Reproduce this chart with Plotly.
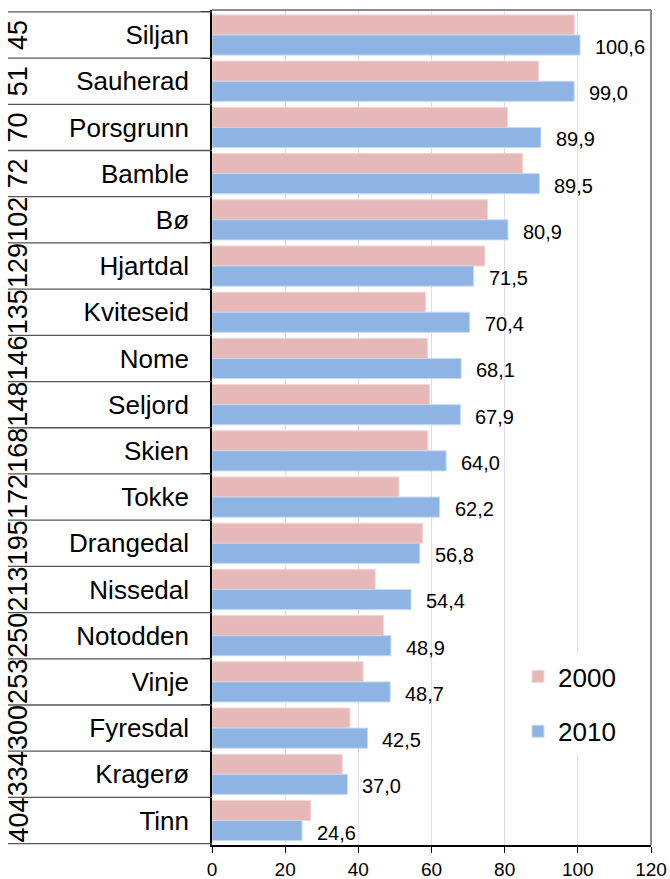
import plotly.graph_objects as go

names = ["Siljan", "Sauherad", "Porsgrunn", "Bamble", "Bø", "Hjartdal", "Kviteseid",
         "Nome", "Seljord", "Skien", "Tokke", "Drangedal", "Nissedal", "Notodden",
         "Vinje", "Fyresdal", "Kragerø", "Tinn"]
ranks = ["45", "51", "70", "72", "102", "129", "135", "146", "148", "168", "172",
         "195", "213", "250", "253", "300", "334", "404"]
v2000 = [99.0, 89.3, 80.8, 84.9, 75.3, 74.6, 58.4, 58.9, 59.5, 59.0, 51.1, 57.6,
         44.6, 46.9, 41.3, 37.7, 35.6, 27.0]
v2010 = [100.6, 99.0, 89.9, 89.5, 80.9, 71.5, 70.4, 68.1, 67.9, 64.0, 62.2, 56.8,
         54.4, 48.9, 48.7, 42.5, 37.0, 24.6]
x_ticks = [0, 20, 40, 60, 80, 100, 120]

FONT = "Liberation Sans, Arial, sans-serif"
W, H = 670, 879
ML, MR, MT, MB = 212, 19, 10, 34
PW = W - ML - MR
PH = H - MT - MB

fig = go.Figure()
fig.add_trace(go.Bar(y=names, x=v2000, orientation="h", name="2000",
                     legendgroup="a",
                     marker=dict(color="#e6b8b7", line=dict(color="#f2d6d5", width=1))))
fig.add_trace(go.Bar(y=names, x=v2010, orientation="h", name="2010",
                     legendgroup="b",
                     marker=dict(color="#8eb4e3", line=dict(color="#c6d9f1", width=1))))

annotations = []
for n, v in zip(names, v2010):
    annotations.append(dict(x=v, y=n, xref="x", yref="y", text=f"{v:.1f}".replace(".", ","),
                            showarrow=False, xanchor="left", yanchor="middle",
                            xshift=13, yshift=-12, font=dict(size=20, color="black", family=FONT)))
for n, r in zip(names, ranks):
    annotations.append(dict(x=(18 - ML) / PW, y=n, xref="paper", yref="y", text=r,
                            showarrow=False, textangle=-90, xanchor="center", yanchor="middle",
                            font=dict(size=27, color="black", family=FONT)))

shapes = []
xl = (8 - ML) / PW
for i in range(len(names) + 1):
    shapes.append(dict(type="line", xref="paper", yref="y", x0=xl, x1=0,
                       y0=i - 0.5, y1=i - 0.5, line=dict(color="#555555", width=1.3)))
# top and right frame
shapes.append(dict(type="line", xref="paper", yref="paper", x0=0, x1=1, y0=1, y1=1,
                   line=dict(color="#8c8c8c", width=2)))
shapes.append(dict(type="line", xref="paper", yref="paper", x0=1, x1=1, y0=0, y1=1,
                   line=dict(color="#8c8c8c", width=2)))

fig.update_layout(
    width=W, height=H,
    margin=dict(l=ML, r=MR, t=MT, b=MB, pad=0, autoexpand=False),
    paper_bgcolor="white", plot_bgcolor="white",
    barmode="group", bargap=0.13, bargroupgap=0,
    font=dict(family=FONT, color="black"),
    showlegend=True,
    legend=dict(x=(518 - ML) / PW, y=(H - MB - 653) / PH, xanchor="left", yanchor="top",
                bgcolor="white", borderwidth=0, tracegroupgap=18,
                traceorder="grouped", font=dict(size=26, family=FONT)),
    annotations=annotations,
    shapes=shapes,
)
fig.update_xaxes(range=[0, 120], tickvals=x_ticks, ticktext=[str(t) for t in x_ticks],
                 showgrid=True, gridcolor="#dcdcf5", gridwidth=1, automargin=False,
                 showline=True, linecolor="black", linewidth=1.5,
                 ticks="outside", ticklen=6, tickcolor="black",
                 tickfont=dict(size=19, family=FONT), zeroline=False)
fig.update_yaxes(autorange="reversed", type="category", automargin=False,
                 showline=True, linecolor="black", linewidth=1.5,
                 ticks="outside", tickson="boundaries", ticklen=9, tickcolor="black",
                 tickfont=dict(size=26, family=FONT), ticklabelstandoff=16,
                 showgrid=False, zeroline=False)

fig.write_html("out.html",
               config={"displayModeBar": False},
               post_script="document.body.style.margin='0';document.body.style.padding='0';"
                           "document.body.style.overflow='hidden';")
